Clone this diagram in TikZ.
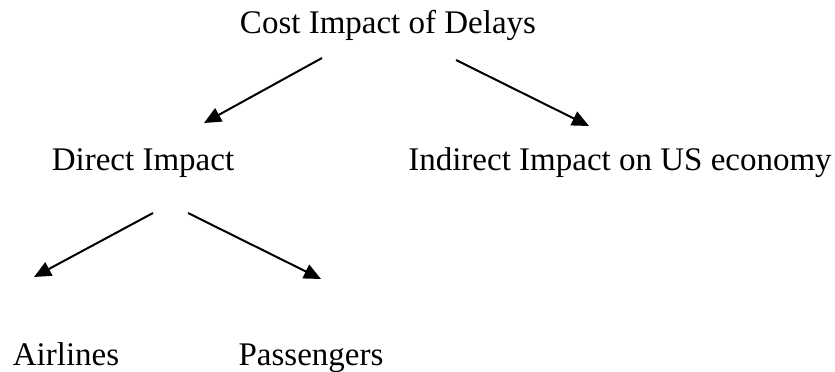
\documentclass[tikz,border=0pt]{standalone}
\usepackage{fontspec}
\setmainfont{Liberation Serif}
\usetikzlibrary{arrows.meta}
\begin{document}
\begin{tikzpicture}[x=1pt, y=-1pt, every node/.style={anchor=base, inner sep=0pt, font=\fontsize{33}{38}\selectfont}, arr/.style={-{Triangle[length=17pt,width=15pt]}, line width=2pt}]
        \useasboundingbox (0,0) rectangle (835,372);
        \node (cost) at (388,33) {Cost Impact of Delays};
        \node (direct) at (143,170) {Direct Impact};
        \node (indirect) at (620,170) {Indirect Impact on US economy};
        \node (air) at (66,365) {Airlines};
        \node (pass) at (311,365) {Passengers};
        
        % arrow ends
        \coordinate (costL) at (322,58);
        \coordinate (costR) at (456,60);
        \coordinate (directT) at (204,123);
        \coordinate (indirectT) at (589,126);
        \coordinate (directL) at (153,213);
        \coordinate (directR) at (188,213);
        \coordinate (airT) at (34,277);
        \coordinate (passT) at (321,279);
        
        \draw[arr] (costL) -- (directT);
        \draw[arr] (costR) -- (indirectT);
        \draw[arr] (directL) -- (airT);
        \draw[arr] (directR) -- (passT);
    \end{tikzpicture}
\end{document}
